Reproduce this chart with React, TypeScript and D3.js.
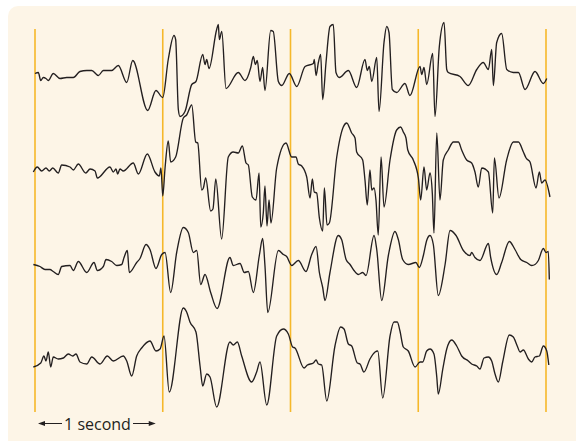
import React from 'react';
import * as d3 from 'd3';

// time in ms, amplitude in uV (approx)
const trace1: [number, number][] = [
  [0, 1], [26, 2], [45, -6], [65, -3], [86, -4], [104, -6], [143, 1], [196, -4], [248, -3], [300, -3],
  [352, 3], [405, 4], [444, 4], [496, -1], [535, 4], [600, 4], [652, 9], [718, -8], [765, 14], [882, -36],
  [947, -16], [1000, -23], [1043, 15], [1088, 39], [1101, 35], [1122, -35], [1135, -42], [1174, -37], [1227, -10],
  [1260, -7], [1313, 20], [1331, 10], [1344, 15], [1362, 6], [1422, 45], [1435, 50], [1443, 35], [1462, 43],
  [1495, -14], [1591, 2], [1644, -6], [1689, 7], [1709, 18], [1725, 10], [1740, 14], [1761, -7], [1782, 7],
  [1800, -16], [1845, 44], [1865, 43], [1905, -7], [1931, -11], [1991, 1], [2049, -12], [2114, 8], [2179, 11],
  [2186, 15], [2200, -1], [2218, 12], [2236, 20], [2252, -25], [2278, 12], [2309, 48], [2335, 50], [2356, 2],
  [2382, -3], [2453, 4], [2518, -13], [2583, 15], [2601, 4], [2617, 8], [2636, -7], [2675, 17], [2693, -37],
  [2732, 32], [2753, 48], [2771, 42], [2797, -15], [2831, -18], [2896, -9], [2935, -21], [3014, 8], [3027, 0],
  [3045, 7], [3066, -10], [3113, 21], [3131, -42], [3165, 28], [3202, 52], [3223, 5], [3235, 2], [3327, -2],
  [3392, -11], [3458, 5], [3509, 12], [3549, 5], [3575, 25], [3588, -11], [3614, 32], [3653, 41], [3693, 5],
  [3744, 2], [3784, 2], [3836, -15], [3914, 3], [3979, -9], [4006, -4],
];

const trace2: [number, number][] = [
  [-13, -2], [18, 3], [52, -1], [86, 2], [112, -1], [139, 2], [182, -3], [209, 5], [274, 3], [300, 0],
  [339, 6], [397, -3], [431, 1], [470, -1], [488, -8], [587, 3], [613, -2], [634, 1], [647, -4], [665, 1],
  [691, -1], [769, 7], [809, -4], [879, 16], [939, -2], [973, -6], [986, 2], [1000, -26], [1018, 2], [1043, 29],
  [1062, 8], [1101, 13], [1161, 52], [1187, 55], [1227, 65], [1258, 28], [1274, 27], [1305, -20], [1318, -18],
  [1336, -8], [1375, -41], [1393, -39], [1415, -9], [1461, -69], [1513, 13], [1552, 18], [1591, 17], [1623, 24],
  [1652, 7], [1670, 5], [1701, -27], [1730, -30], [1754, -3], [1767, -57], [1787, -43], [1800, -16], [1816, -56],
  [1832, -30], [1847, -53], [1892, 2], [1965, 27], [2009, 13], [2043, 13], [2061, 6], [2088, 4], [2127, -7],
  [2153, -28], [2171, -9], [2186, -22], [2205, -23], [2226, -48], [2252, -61], [2265, -18], [2286, -55],
  [2304, -53], [2362, 13], [2413, 43], [2440, 47], [2479, 37], [2505, 32], [2518, 18], [2565, 10], [2583, -10],
  [2601, -35], [2622, 0], [2636, -20], [2654, -18], [2669, -30], [2687, -65], [2709, 13], [2732, -37], [2779, 10],
  [2831, 40], [2863, 43], [2883, 38], [2904, 32], [2918, 20], [2961, 10], [3001, -8], [3019, -30], [3045, 3],
  [3066, -20], [3092, -3], [3110, -23], [3123, -63], [3145, 37], [3170, -30], [3196, 10], [3235, 20], [3275, 28],
  [3314, 28], [3340, 20], [3379, 10], [3418, 7], [3444, -2], [3470, -17], [3497, 2], [3549, -2], [3583, -43],
  [3596, 12], [3632, -28], [3692, 10], [3744, 28], [3784, 28], [3823, 18], [3844, 12], [3875, 8], [3922, -18],
  [3948, -2], [3966, -13], [3992, -10], [4031, -27],
];

const trace3: [number, number][] = [
  [-13, 1], [39, -1], [78, -4], [117, -4], [143, -6], [182, -9], [209, -1], [274, 0], [300, -5], [339, 4],
  [405, -7], [462, 3], [488, -5], [535, -1], [556, 6], [600, 4], [640, 0], [679, 1], [697, 8], [723, 15],
  [738, -7], [796, 3], [822, 7], [869, 21], [900, 16], [947, -3], [992, 11], [1018, 13], [1062, -27], [1109, 13],
  [1161, 38], [1200, 33], [1239, 13], [1266, 15], [1297, -19], [1331, -9], [1375, -27], [1425, -43], [1526, 8],
  [1552, 0], [1605, 2], [1638, -7], [1670, -6], [1709, -27], [1756, 10], [1782, 27], [1800, 0], [1822, -47],
  [1905, 15], [1944, 11], [1970, 9], [2009, 0], [2061, 5], [2121, -6], [2166, 11], [2200, 19], [2226, -7],
  [2252, -22], [2270, -35], [2309, -7], [2374, 30], [2400, 26], [2435, 6], [2466, 1], [2497, -5], [2531, -9],
  [2565, -7], [2591, -10], [2654, 30], [2675, 16], [2714, -35], [2766, 10], [2818, 34], [2844, 26], [2878, 6],
  [2922, 1], [2982, 3], [3008, -2], [3040, 10], [3066, 25], [3092, 30], [3118, 21], [3157, -30], [3210, 1],
  [3249, 35], [3296, 30], [3353, 15], [3405, 10], [3418, 13], [3444, 8], [3483, 5], [3549, 22], [3567, 8],
  [3614, -9], [3653, 3], [3713, 24], [3757, 16], [3802, 6], [3849, 3], [3888, 0], [3914, 1], [3940, 5],
  [3979, 17], [4000, 13], [4018, 14], [4026, -14],
];

const trace4: [number, number][] = [
  [-13, -6], [45, -2], [70, 5], [86, 0], [104, 9], [123, -6], [143, 4], [182, 2], [222, 3], [261, 7],
  [295, 5], [321, 7], [352, -1], [405, -3], [444, 4], [509, -3], [566, 5], [613, 0], [691, 5], [718, 0],
  [757, -15], [796, 5], [835, 13], [900, 20], [947, 10], [979, 12], [1010, 25], [1051, -31], [1161, 53],
  [1187, 49], [1213, 39], [1260, 29], [1292, -5], [1313, -25], [1344, -13], [1370, -16], [1422, -46], [1526, 19],
  [1552, 16], [1584, 19], [1618, 5], [1696, -21], [1735, -11], [1761, -1], [1814, -44], [1892, 25], [1944, 32],
  [1983, 27], [2017, 14], [2035, 13], [2106, -7], [2132, -4], [2179, -2], [2200, 1], [2218, -3], [2244, -4],
  [2284, -40], [2348, 15], [2393, 34], [2419, 32], [2453, 17], [2479, 15], [2523, -2], [2544, -3], [2575, -11],
  [2622, 2], [2662, 9], [2683, 10], [2722, -37], [2779, 25], [2810, 39], [2836, 39], [2857, 30], [2883, 14],
  [2922, 10], [2975, -6], [3014, -1], [3035, -1], [3066, 10], [3092, 12], [3123, 7], [3145, -16], [3157, -33],
  [3192, -8], [3223, 12], [3262, 21], [3301, 15], [3340, 5], [3392, 0], [3418, -3], [3458, -5], [3483, -8],
  [3515, 3], [3549, 4], [3575, 0], [3601, -13], [3627, -21], [3661, -1], [3713, 26], [3744, 24], [3775, 15],
  [3797, 9], [3823, 11], [3862, 2], [3888, -1], [3914, 4], [3948, 5], [3979, 15], [4006, 10], [4022, -4],
];

const traces = [trace1, trace2, trace3, trace4];
const secondMarks = [0, 1000, 2000, 3000, 4000];
const scaleLabel = '1 second';

const width = 576;
const height = 441;

export default function App() {
  const x = d3.scaleLinear().domain([0, 4000]).range([35, 546]);
  // each trace gets its own baseline, amplitudes are in px-ish units
  const row = d3.scalePoint<number>().domain([0, 1, 2, 3]).range([74.5, 361]);
  const amp = d3.scaleLinear().domain([-10, 10]).range([10, -10]);

  const line = (i: number) =>
    d3.line<[number, number]>()
      .x(d => x(d[0]))
      .y(d => (row(i) as number) + amp(d[1]))
      .curve(d3.curveMonotoneX);

  const arrowY = 423.5;
  const arrowL = x(0) + 3;
  const arrowR = x(1000) - 7;

  return (
    <svg width={width} height={height} style={{ position: 'absolute', left: 0, top: 0 }}>
      <rect x={8} y={6} width={590} height={460} rx={10} fill="#fdf5e7" />
      {secondMarks.map(t => (
        <line key={t} x1={x(t)} x2={x(t)} y1={29} y2={412} stroke="#f6b82a" strokeWidth={1.6} />
      ))}
      {traces.map((tr, i) => (
        <path key={i} d={line(i)(tr) || ''} fill="none" stroke="#231f20" strokeWidth={1.35} strokeLinejoin="round" />
      ))}
      <g stroke="#231f20" strokeWidth={1} fill="#231f20">
        <line x1={arrowL + 5} x2={62} y1={arrowY} y2={arrowY} />
        <path d={`M${arrowL},${arrowY} l7,-2.5 l0,5 z`} stroke="none" />
        <line x1={133} x2={arrowR - 5} y1={arrowY} y2={arrowY} />
        <path d={`M${arrowR},${arrowY} l-7,-2.5 l0,5 z`} stroke="none" />
      </g>
      <text x={97.5} y={429.5} textAnchor="middle" fontFamily="'Open Sans', sans-serif" fontSize={16} fill="#231f20">
        {scaleLabel}
      </text>
    </svg>
  );
}
